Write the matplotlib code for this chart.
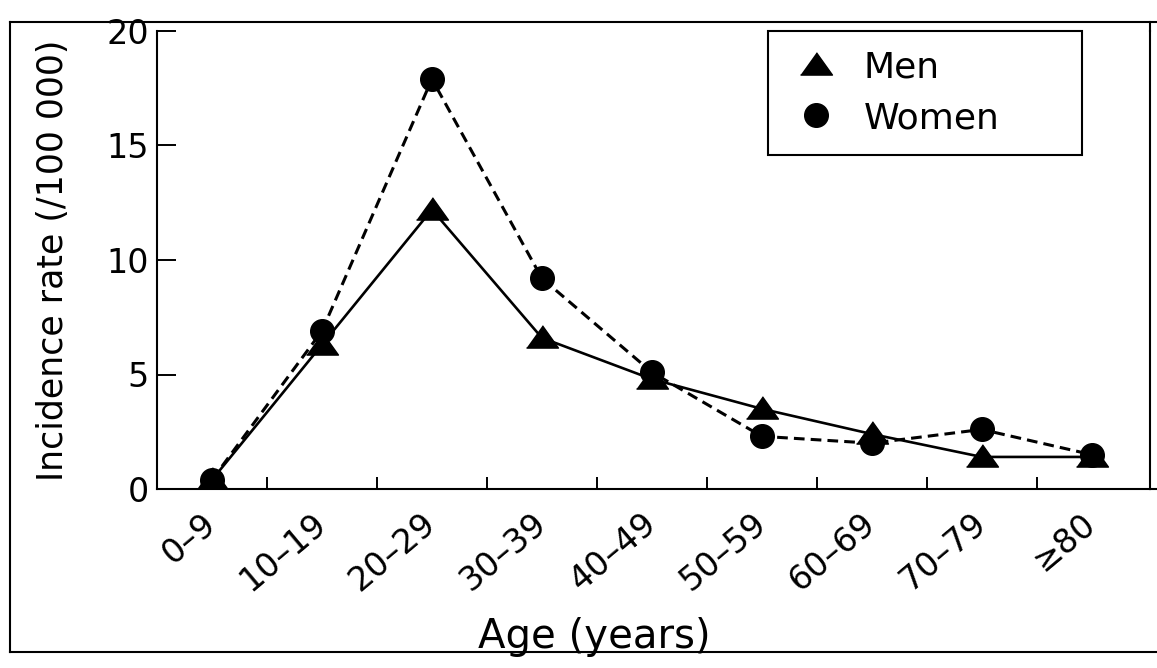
import matplotlib
matplotlib.use('Agg')
import matplotlib.pyplot as plt
from matplotlib.lines import Line2D

# data
age_groups = ['0–9', '10–19', '20–29', '30–39', '40–49', '50–59', '60–69', '70–79', '≥80']
men = [0.4, 6.3, 12.2, 6.6, 4.8, 3.5, 2.4, 1.4, 1.4]
women = [0.4, 6.9, 17.9, 9.2, 5.1, 2.3, 2.0, 2.6, 1.5]
y_ticks = [0, 5, 10, 15, 20]

plt.rcParams['font.family'] = 'DejaVu Sans'

W, H = 1157, 668
fig = plt.figure(figsize=(W / 100, H / 100), dpi=100)
ax = fig.add_axes([157 / W, 1 - 489 / H, 993 / W, 458 / H])

# flat triangle like the print
tri = [(-1, -0.6), (1, -0.6), (0, 0.8)]

x = list(range(len(age_groups)))
ax.plot(x, women, color='black', lw=2.2, dashes=(3.5, 2),
        marker='o', ms=17, mfc='black', mec='black', zorder=3)
ax.plot(x, men, color='black', lw=1.9, ls='-',
        marker=tri, ms=23, mfc='black', mec='black', zorder=4)

ax.set_xlim(-0.5, 8.53)
ax.set_ylim(0, 20)

ax.set_yticks(y_ticks)
ax.set_yticklabels([str(v) for v in y_ticks])
ax.set_xticks(x)
ax.set_xticklabels(age_groups, rotation=40, ha='right', va='center',
                   rotation_mode='anchor')
ax.set_xticks([i + 0.5 for i in x[:-1]], minor=True)

ax.tick_params(axis='y', direction='in', length=14, width=1.4, labelsize=24, pad=6)
ax.tick_params(axis='x', which='major', length=0, labelsize=24, pad=22)
ax.tick_params(axis='x', which='minor', direction='in', length=9, width=1.4)

for side in ['left', 'bottom', 'right']:
    ax.spines[side].set_linewidth(1.5)
ax.spines['top'].set_visible(False)

ax.set_ylabel('Incidence rate (/100 000)', fontsize=25)
ax.yaxis.set_label_coords(-0.088, 0.5)
ax.set_xlabel('Age (years)', fontsize=29, va='top')
ax.xaxis.set_label_coords(0.44, -0.28)

handles = [
    Line2D([], [], ls='none', marker=tri, ms=23, color='black'),
    Line2D([], [], ls='none', marker='o', ms=17, color='black'),
]
leg = ax.legend(handles, ['Men', 'Women'], loc='upper left',
                bbox_to_anchor=(0.615, 0.664, 0.317, 0.336), mode='expand',
                borderaxespad=0, fontsize=26, frameon=True, fancybox=False,
                framealpha=1, edgecolor='black', handlelength=1.6,
                handletextpad=0.5, labelspacing=0.45, borderpad=0.55)
leg.get_frame().set_linewidth(1.5)

# frame around the whole printed figure
fl, fr = 10 / W, 1150 / W
ft, fb = 1 - 22 / H, 1 - 652 / H
frame_kw = dict(color='black', lw=1.5, transform=fig.transFigure)
fig.add_artist(Line2D([fl, fl], [fb, ft], **frame_kw))
fig.add_artist(Line2D([fl, 1.0], [ft, ft], **frame_kw))
fig.add_artist(Line2D([fl, 1.0], [fb, fb], **frame_kw))
fig.add_artist(Line2D([fr, fr], [1 - 31 / H, ft], **frame_kw))
fig.add_artist(Line2D([fr, 1.0], [1 - 489 / H, 1 - 489 / H], **frame_kw))

fig.savefig('out.png', dpi=100)
